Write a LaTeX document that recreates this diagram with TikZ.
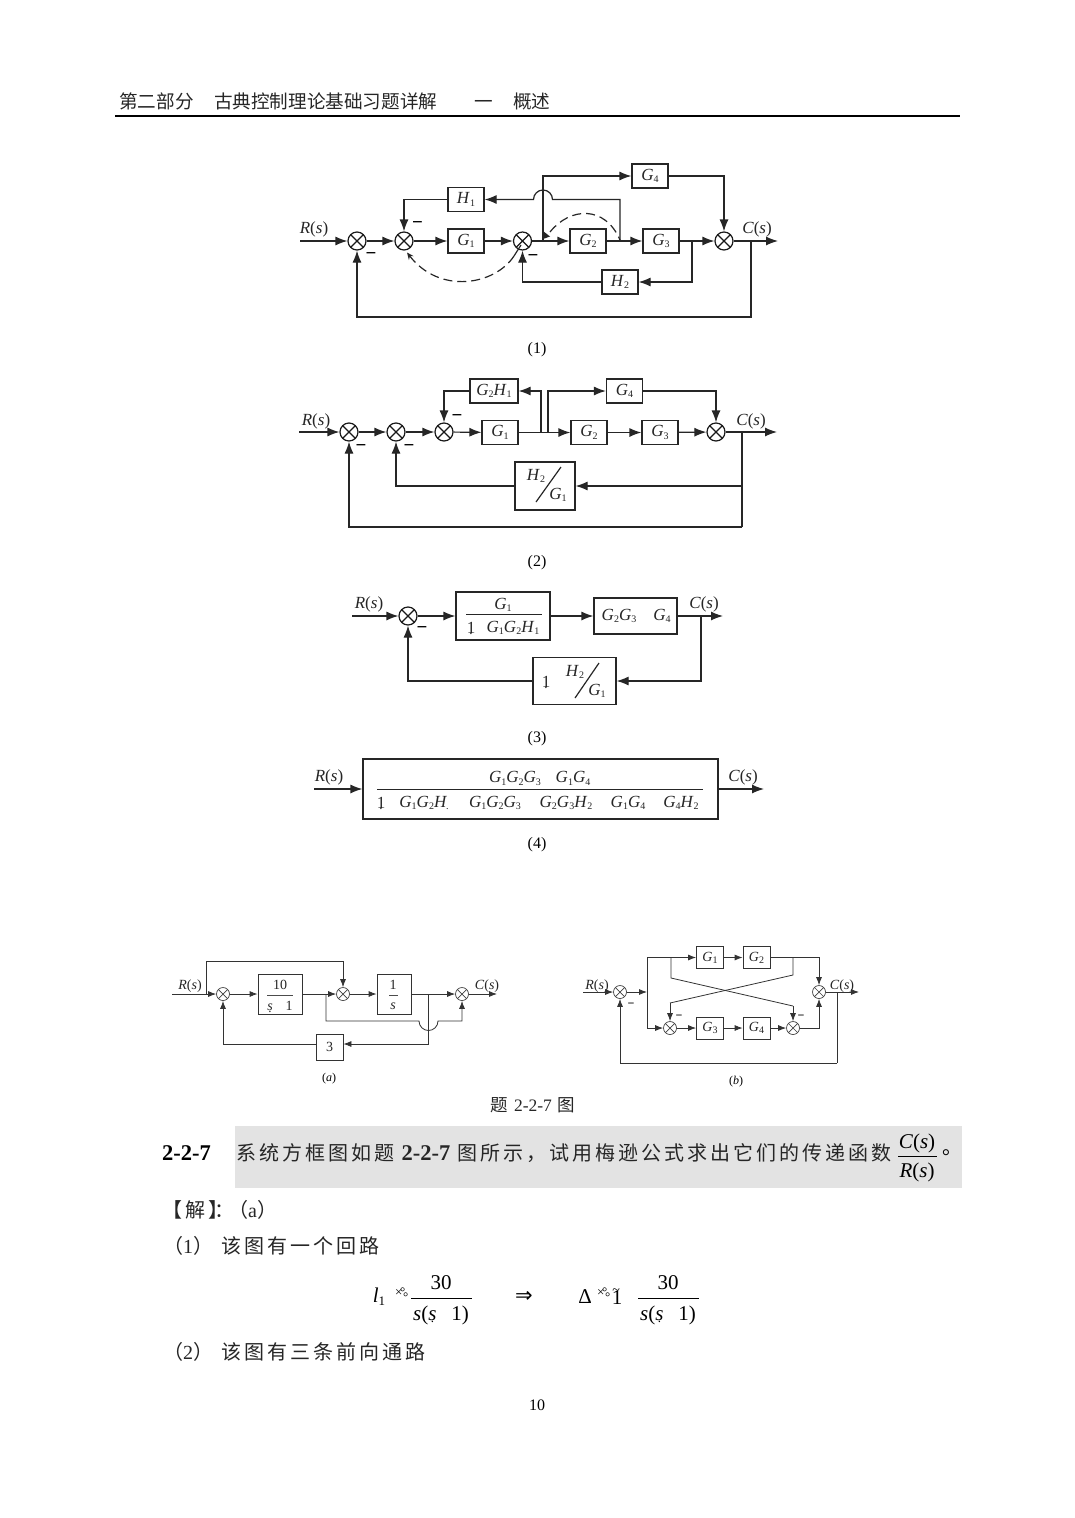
\documentclass[tikz,border=0pt]{standalone}
\usepackage{fontspec}
\usetikzlibrary{arrows.meta}
\setmainfont{Liberation Serif}
\newfontfamily\cjkh{Noto Sans CJK SC}
\newfontfamily\cjkb[LetterSpace=15]{Noto Sans CJK SC}
\newfontfamily\djf{DejaVu Sans}
\newcommand{\fz}[1]{\fontsize{#1}{#1}\selectfont}
\newcommand{\vG}[1]{\textit{G}\raisebox{-0.3ex}{\fz{10}#1}}
\newcommand{\vH}[1]{\textit{H}\raisebox{-0.3ex}{\fz{10}#1}}
\newcommand{\Rs}{\textit{R}(\textit{s})}
\newcommand{\Cs}{\textit{C}(\textit{s})}
\newcommand{\udot}[1]{\vtop{\offinterlineskip\halign{\hfil##\hfil\cr #1\cr\noalign{\kern0.5pt}\fz{13}.\cr}}}
\newcommand{\garb}{{\fz{13}×}\kern-2.5pt\rlap{\fz{13}°}\kern3pt\raisebox{-5pt}{\fz{13}°}}
\tikzset{
  lnk/.style={line width=1.2pt,black!85,line join=miter},
  arr/.style={lnk,-{Latex[length=12pt,width=9pt]}},
  slnk/.style={line width=0.8pt,black!80},
  sarr/.style={slnk,-{Latex[length=8pt,width=6pt]}},
  sumj/.style={circle,draw=black!90,line width=1.2pt,minimum size=18pt,inner sep=0pt,fill=white,
    path picture={\draw[line width=1.2pt,black!90] (path picture bounding box.north west)--(path picture bounding box.south east)
      (path picture bounding box.north east)--(path picture bounding box.south west);}},
  ssum/.style={sumj,minimum size=13pt,line width=0.7pt,draw=black!75,
    path picture={\draw[line width=0.7pt,black!75] (path picture bounding box.north west)--(path picture bounding box.south east)
      (path picture bounding box.north east)--(path picture bounding box.south west);}},
  blk/.style={draw=black!85,line width=1.2pt,inner sep=0pt,fill=white,font=\fz{17},text=black!85},
  sblk/.style={draw=black!80,line width=0.8pt,inner sep=0pt,fill=white,font=\fz{14},text=black!85},
  lab/.style={inner sep=0pt,font=\fz{17},text=black!85},
  slab/.style={inner sep=0pt,font=\fz{14},text=black!85},
  iolab/.style={lab,yshift=-1.5pt},
  siolab/.style={slab,yshift=-1pt},
  mns/.style={inner sep=0pt,font=\fz{19}\bfseries,text=black},
  smns/.style={inner sep=0pt,font=\fz{12}\bfseries,text=black},
  captxt/.style={inner sep=0pt,font=\fz{16},text=black,yshift=-2pt},
  dsh/.style={line width=1.2pt,black!85,dash pattern=on 9pt off 5pt},
  cjkt/.style={inner sep=0pt,anchor=west,text=black!85},
}
\begin{document}
\begin{tikzpicture}[x=1pt,y=-1pt]
\useasboundingbox (0,0) rectangle (1075,1518);
\fill[white] (0,0) rectangle (1075,1518);
% header
\node[cjkt,font=\fz{18.6}\cjkh] (hd1) at (119,101) {第二部分\hspace{1.1em}古典控制理论基础习题详解};
\node[cjkt,font=\fz{18.6}\cjkh] (hd2) at (474,101) {一\hspace{1.1em}概述};
\draw[line width=2pt] (115,116) -- (960,116);

% ---------- diagram 1
\coordinate (ri1) at (300,241);
\node[sumj] (s11) at (357,241) {};
\node[sumj] (s12) at (404,241) {};
\node[sumj] (s13) at (522.5,241) {};
\node[sumj] (s14) at (724,241) {};
\node[blk,minimum width=36pt,minimum height=24pt] (g11) at (466,241) {\vG1};
\node[blk,minimum width=36pt,minimum height=24pt] (g12) at (588,241) {\vG2};
\node[blk,minimum width=36pt,minimum height=24pt] (g13) at (661,241) {\vG3};
\node[blk,minimum width=36pt,minimum height=24pt] (h11) at (466,199.5) {\vH1};
\node[blk,minimum width=36pt,minimum height=24pt] (g14) at (650,176) {\vG4};
\node[blk,minimum width=36pt,minimum height=24pt] (h12) at (620,282) {\vH2};
\coordinate (ro1) at (778,241);
\coordinate (b11) at (543,241);
\coordinate (b12) at (620,241);
\coordinate (b13) at (692,241);
\coordinate (b14) at (751,241);
\coordinate (c11) at (751,317);
\coordinate (bu1) at (552.5,199.5);
\draw[arr] (ri1) -- (s11);
\draw[arr] (s11) -- (s12);
\draw[arr] (s12) -- (g11);
\draw[arr] (g11) -- (s13);
\draw[arr] (s13) -- (g12);
\draw[arr] (g12) -- (g13);
\draw[arr] (g13) -- (s14);
\draw[arr] (s14) -- (ro1);
\draw[arr] (b11) |- (g14.west);
\draw[arr] (g14.east) -| (s14);
\draw[arr] (b12) |- (bu1) arc[start angle=0,end angle=180,radius=9.5pt] -- (h11.east);
\draw[arr] (h11.west) -| (s12);
\draw[arr] (b13) |- (h12.east);
\draw[arr] (h12.west) -| (s13);
\draw[arr] (b14) |- (s11 |- c11) -- (s11);
\fill[black!85] (543,231) -- (550,236.5) -- (543,239) -- cycle;
\draw[dsh] (550,232) .. controls (570,207) and (605,205) .. (620,240);
\draw[line width=1.2pt,black!85] (514,256) -- (521,245);
\draw[dsh,-{Stealth[length=7pt,width=6pt]}] (514,256) .. controls (495,285) and (440,295) .. (407,252.5);
\node[mns] (m11) at (417.5,225.5) {−};
\node[mns] (m12) at (371,256.5) {−};
\node[mns] (m13) at (533,258.5) {−};
\node[iolab] (rl1) at (314,228) {\Rs};
\node[iolab] (cl1) at (757,228) {\Cs};
\node[captxt] (cp1) at (537,348) {(1)};

% ---------- diagram 2
\coordinate (ri2) at (299,432);
\node[sumj] (s21) at (349,432) {};
\node[sumj] (s22) at (396,432) {};
\node[sumj] (s23) at (444,432) {};
\node[sumj] (s24) at (716,432) {};
\node[blk,minimum width=36pt,minimum height=24pt] (g21) at (500,432.5) {\vG1};
\node[blk,minimum width=36pt,minimum height=24pt] (g22) at (589,432.5) {\vG2};
\node[blk,minimum width=36pt,minimum height=24pt] (g23) at (660,432.5) {\vG3};
\node[blk,minimum width=48pt,minimum height=24pt] (gh2) at (494,391) {\vG2\vH1};
\node[blk,minimum width=36pt,minimum height=24pt] (g24) at (624.5,391) {\vG4};
\node[blk,minimum width=60pt,minimum height=48pt] (hg2) at (545,486) {};
\node[lab] (hg2a) at (536,476) {\vH2};
\node[lab] (hg2b) at (558,495) {\vG1};
\draw[line width=1.2pt,black!85] (536,502) -- (561,467);
\coordinate (ro2) at (777,432);
\coordinate (b21) at (541,432.5);
\coordinate (b22) at (548,432.5);
\coordinate (b23) at (742,432);
\coordinate (b24) at (742,486);
\coordinate (c21) at (742,527);
\draw[arr] (ri2) -- (s21);
\draw[arr] (s21) -- (s22);
\draw[arr] (s22) -- (s23);
\draw[arr] (s23) -- (g21);
\draw[arr] (g21) -- (g22);
\draw[arr] (g22) -- (g23);
\draw[arr] (g23) -- (s24);
\draw[arr] (s24) -- (ro2);
\draw[arr] (b21) |- (gh2.east);
\draw[arr] (gh2.west) -| (s23);
\draw[arr] (b22) |- (g24.west);
\draw[arr] (g24.east) -| (s24);
\draw[lnk] (b23) -- (c21);
\draw[arr] (b24) -- (hg2.east);
\draw[arr] (hg2.west) -| (s22);
\draw[arr] (c21) -| (s21);
\node[mns] (m21) at (361,448) {−};
\node[mns] (m22) at (409,448) {−};
\node[mns] (m23) at (457,418) {−};
\node[iolab] (rl2) at (316,420) {\Rs};
\node[iolab] (cl2) at (751,420) {\Cs};
\node[captxt] (cp2) at (537,561) {(2)};

% ---------- diagram 3
\coordinate (ri3) at (352,616);
\node[sumj] (s31) at (408,616) {};
\node[blk,minimum width=94pt,minimum height=48pt] (b31) at (503,616) {};
\draw[line width=0.9pt,black!85] (466,614.5) -- (542,614.5);
\node[lab] (b31n) at (503,605) {\vG1};
\node[lab,anchor=base] (b31o) at (471,633) {\udot{1}};
\node[lab] (b31d) at (513,628) {\vG1\vG2\vH1};
\node[blk,minimum width=83pt,minimum height=36pt] (b32) at (635.5,616) {};
\node[lab] (b32a) at (619,616) {\vG2\vG3};
\node[lab] (b32b) at (662,616) {\vG4};
\node[blk,minimum width=83pt,minimum height=47pt] (b33) at (574.5,681) {};
\node[lab,anchor=base] (b33o) at (546,687) {\udot{1}};
\node[lab] (b33a) at (575,672) {\vH2};
\node[lab] (b33b) at (597,691) {\vG1};
\draw[line width=1.2pt,black!85] (575,698) -- (599,663);
\coordinate (ro3) at (723,616);
\coordinate (b34) at (701,616);
\draw[arr] (ri3) -- (s31);
\draw[arr] (s31) -- (b31);
\draw[arr] (b31) -- (b32);
\draw[arr] (b32) -- (ro3);
\draw[arr] (b34) |- (b33.east);
\draw[arr] (b33.west) -| (s31);
\node[mns] (m31) at (422,630) {−};
\node[iolab] (rl3) at (369,603) {\Rs};
\node[iolab] (cl3) at (704,603) {\Cs};
\node[captxt] (cp3) at (537,737) {(3)};

% ---------- diagram 4
\coordinate (ri4) at (314,789);
\coordinate (ro4) at (764,789);
\node[blk,minimum width=355pt,minimum height=60pt] (b41) at (540.5,789) {};
\draw[line width=0.9pt,black!85] (377,789.5) -- (703,789.5);
\node[lab] (n41) at (515,778.5) {\vG1\vG2\vG3};
\node[lab] (n42) at (573,778.5) {\vG1\vG4};
\node[lab,anchor=base] (d40) at (381,808) {\udot{1}};
\node[lab] (d41) at (424,803) {\vG1\vG2\vH{}\kern-1pt\raisebox{-0.3ex}{\fz{10}.}};
\node[lab] (d42) at (495,803) {\vG1\vG2\vG3};
\node[lab] (d43) at (566,803) {\vG2\vG3\vH2};
\node[lab] (d44) at (628,803) {\vG1\vG4};
\node[lab] (d45) at (681,803) {\vG4\vH2};
\draw[arr] (ri4) -- (b41);
\draw[arr] (b41) -- (ro4);
\node[iolab] (rl4) at (329,776) {\Rs};
\node[iolab] (cl4) at (743,776) {\Cs};
\node[captxt] (cp4) at (537,843) {(4)};

% ---------- diagram a
\coordinate (ria) at (172,994);
\node[ssum] (sa1) at (223,994) {};
\node[ssum] (sa2) at (343,994) {};
\node[ssum] (sa3) at (462,994) {};
\node[sblk,minimum width=44pt,minimum height=40pt] (ba1) at (280,994) {};
\draw[line width=0.7pt,black!70] (267,995) -- (293,995);
\node[slab] (ba1n) at (280,985) {10};
\node[slab,anchor=base] (ba1s) at (270,1010) {\udot{\textit{s}}};
\node[slab] (ba1o) at (289,1006) {1};
\node[sblk,minimum width=34pt,minimum height=40pt] (ba2) at (394,994) {};
\draw[line width=0.7pt,black!70] (389,995) -- (398,995);
\node[slab] (ba2n) at (393,985) {1};
\node[slab] (ba2d) at (393,1006) {\textit{s}};
\node[sblk,minimum width=27pt,minimum height=26pt] (ba3) at (329.5,1047) {3};
\coordinate (roa) at (497,994);
\coordinate (ba1b) at (206,994);
\coordinate (ba2b) at (326,994);
\coordinate (ba3b) at (428.5,994);
\coordinate (ba3c) at (428.5,1044);
\coordinate (bua) at (419,1021);
\coordinate (coa) at (326,1021);
\draw[sarr] (ria) -- (sa1);
\draw[sarr] (sa1) -- (ba1);
\draw[sarr] (ba1) -- (sa2);
\draw[sarr] (sa2) -- (ba2);
\draw[sarr] (ba2) -- (sa3);
\draw[sarr] (sa3) -- (roa);
\draw[sarr] (ba1b) |- (343,961) -- (sa2);
\draw[sarr] (ba2b) -- (coa) -- (bua) arc[start angle=180,end angle=360,radius=9.5pt] -| (sa3);
\draw[slnk] (ba3b) -- (ba3c);
\draw[sarr] (ba3c) -- (ba3.east |- ba3c);
\draw[sarr] (ba3.west |- ba3c) -| (sa1);
\node[siolab] (rla) at (190,985) {\Rs};
\node[siolab] (cla) at (487,985) {\Cs};
\node[inner sep=0pt,font=\fz{12},yshift=-2pt] (cpa) at (329,1077) {(\textit{a})};

% ---------- diagram b
\coordinate (rib) at (583,992);
\node[ssum] (sb1) at (620,992) {};
\node[ssum] (sb2) at (819,992) {};
\node[ssum] (sb3) at (670,1028) {};
\node[ssum] (sb4) at (793,1028) {};
\node[sblk,minimum width=27pt,minimum height=22pt] (gb1) at (710,957.5) {\vG1};
\node[sblk,minimum width=27pt,minimum height=22pt] (gb2) at (756.5,957.5) {\vG2};
\node[sblk,minimum width=27pt,minimum height=22pt] (gb3) at (710,1028) {\vG3};
\node[sblk,minimum width=27pt,minimum height=22pt] (gb4) at (756.5,1028) {\vG4};
\coordinate (rob) at (859,992);
\coordinate (vb) at (647,992);
\coordinate (tl) at (671,957.5);
\coordinate (tr) at (793,957.5);
\coordinate (d1a) at (671,978);
\coordinate (d1b) at (793,1006);
\coordinate (d2a) at (793,975);
\coordinate (d2b) at (670,1003);
\coordinate (brb) at (837,992);
\coordinate (cob) at (837,1063);
\draw[sarr] (rib) -- (sb1);
\draw[sarr] (sb1) -- (vb);
\draw[sarr] (vb) |- (gb1.west);
\draw[sarr] (vb) |- (sb3.west);
\draw[sarr] (gb1) -- (gb2);
\draw[sarr] (gb2.east) -| (sb2);
\draw[slnk] (tl) -- (d1a) -- (d1b);
\draw[sarr] (d1b) -- (sb4);
\draw[slnk] (tr) -- (d2a) -- (d2b);
\draw[sarr] (d2b) -- (sb3);
\draw[sarr] (sb3) -- (gb3);
\draw[sarr] (gb3) -- (gb4);
\draw[sarr] (gb4) -- (sb4);
\draw[sarr] (sb4.east) -| (sb2);
\draw[sarr] (sb2) -- (rob);
\draw[slnk] (brb) -- (cob);
\draw[sarr] (cob) -| (sb1);
\node[smns] (mb1) at (631,1005) {−};
\node[smns] (mb2) at (679,1017) {−};
\node[smns] (mb3) at (801,1017) {−};
\node[siolab] (rlb) at (597,985) {\Rs};
\node[siolab] (clb) at (842,985) {\Cs};
\node[inner sep=0pt,font=\fz{12},yshift=-2pt] (cpb) at (736,1080) {(\textit{b})};

% ---------- text
\node[inner sep=0pt,font=\fz{17.5}\cjkh,text=black!85] (tc) at (533,1105) {题\hspace{6pt}{\rmfamily 2-2-7}\hspace{6pt}图};
\fill[black!11] (235,1126) rectangle (962,1188);
\node[inner sep=0pt,anchor=west,font=\fz{22.5}\bfseries] (qn) at (162,1153) {2-2-7};
\node[cjkt,font=\fz{20}\cjkb] (qt) at (236,1153) {系统方框图如题 {\rmfamily\bfseries\fz{22.5}2-2-7} 图所示，试用梅逊公式求出它们的传递函数};
\node[inner sep=0pt,font=\fz{21},yshift=-2pt] (fn) at (917,1141) {\Cs};
\draw[line width=1pt] (898,1156.5) -- (937,1156.5);
\node[inner sep=0pt,font=\fz{21},yshift=-1pt] (fd) at (917,1171) {\Rs};
\node[inner sep=0pt,font=\fz{20}\cjkh] (fe) at (952,1153) {。};
\node[cjkt,font=\fz{20}\cjkb] (ans) at (162,1210) {【解】\hspace{-14pt}：\hspace{-6pt}（{\rmfamily a}）};
\node[cjkt,font=\fz{20}\cjkb] (l1) at (163,1246) {（{\rmfamily 1}）\hspace{8pt}该图有一个回路};
\node[inner sep=0pt,font=\fz{21}] (e1) at (379,1297) {\textit{l}\raisebox{-0.3ex}{\fz{13}1}};
\node[inner sep=0pt,anchor=base west] (e2) at (395,1296) {\garb};
\node[inner sep=0pt,font=\fz{21}] (e3) at (441,1283) {30};
\draw[line width=1pt] (411,1298) -- (472,1298);
\node[inner sep=0pt,font=\fz{21},anchor=base] (e4) at (441,1320) {\textit{s}(\udot{\textit{s}}\hspace{0.7em}1)};
\node[inner sep=0pt,font=\fz{21}\djf] (e5) at (524,1297) {⇒};
\node[inner sep=0pt,font=\fz{21}] (e6) at (585,1297) {Δ};
\node[inner sep=0pt,anchor=base west] (e7) at (597,1296) {\garb};
\node[inner sep=0pt,font=\fz{21},anchor=base] (e8) at (617,1304) {\rlap{\kern0.5pt\raisebox{10pt}{\fz{14}\char"007E}}1};
\node[inner sep=0pt,font=\fz{21}] (e9) at (668,1283) {30};
\draw[line width=1pt] (638,1298) -- (699,1298);
\node[inner sep=0pt,font=\fz{21},anchor=base] (e10) at (668,1320) {\textit{s}(\udot{\textit{s}}\hspace{0.7em}1)};
\node[cjkt,font=\fz{20}\cjkb] (l2) at (163,1352) {（{\rmfamily 2}）\hspace{8pt}该图有三条前向通路};
\node[inner sep=0pt,font=\fz{16}] (pg) at (537,1405) {10};
\end{tikzpicture}
\end{document}
